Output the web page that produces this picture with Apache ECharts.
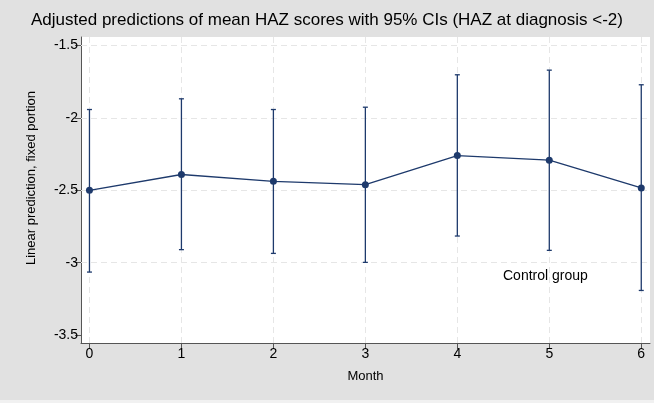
<!DOCTYPE html>
<html>
<head>
<meta charset="utf-8">
<script src="https://cdn.jsdelivr.net/npm/echarts@6/dist/echarts.min.js"></script>
<style>
  html, body { margin: 0; padding: 0; background: #e1e1e1; }
  #chart { width: 654px; height: 403px; }
</style>
</head>
<body>
<div id="chart"></div>
<script>
// values
const months = [0, 1, 2, 3, 4, 5, 6];
const meanHaz = [-2.500, -2.391, -2.438, -2.461, -2.260, -2.292, -2.484];
const upperCI = [-1.942, -1.868, -1.942, -1.926, -1.702, -1.670, -1.771];
const lowerCI = [-3.065, -2.910, -2.936, -2.998, -2.816, -2.915, -3.192];
const yTicks = [-3.5, -3, -2.5, -2, -1.5];
const yGridLines = [-3, -2.5, -2, -1.5];

const navy = '#1e3a6c';
const font = 'Liberation Sans, Arial, sans-serif';

const chart = echarts.init(document.getElementById('chart'));

const option = {
  backgroundColor: '#e1e1e1',
  animation: false,
  textStyle: { fontFamily: font },
  title: {
    text: 'Adjusted predictions of mean HAZ scores with 95% CIs (HAZ at diagnosis <-2)',
    left: 'center',
    top: 7,
    textStyle: { fontFamily: font, fontSize: 17, fontWeight: 'normal', color: '#000' }
  },
  grid: {
    left: 81, right: 4, top: 37, bottom: 60,
    show: true, backgroundColor: '#fff', borderWidth: 0
  },
  xAxis: {
    type: 'value',
    min: -0.092,
    max: 6.095,
    name: 'Month',
    nameLocation: 'middle',
    nameGap: 27,
    nameTextStyle: { fontFamily: font, fontSize: 13, color: '#000' },
    axisLine: { onZero: false, lineStyle: { color: '#555', width: 1 } },
    axisTick: { customValues: months, length: 6, lineStyle: { color: '#555' } },
    axisLabel: { customValues: months, margin: 4, fontSize: 14, color: '#000', fontFamily: font },
    splitLine: { show: false }
  },
  yAxis: {
    type: 'value',
    min: -3.555,
    max: -1.441,
    axisLine: { show: true, onZero: false, lineStyle: { color: '#555', width: 1 } },
    axisTick: { show: true, customValues: yTicks, length: 6, lineStyle: { color: '#555' } },
    axisLabel: { customValues: yTicks, margin: 3, fontSize: 14, color: '#000', fontFamily: font },
    splitLine: { show: false }
  },
  graphic: [
    {
      type: 'text',
      x: 31, y: 178,
      rotation: Math.PI / 2,
      style: {
        text: 'Linear prediction, fixed portion',
        font: '13px ' + font,
        fill: '#000',
        align: 'center',
        verticalAlign: 'middle'
      }
    },
    {
      type: 'text',
      left: 503, top: 269,
      style: { text: 'Control group', font: '14px ' + font, fill: '#000' }
    },
    {
      type: 'rect',
      shape: { x: 0, y: 400, width: 654, height: 3 },
      style: { fill: '#f1f1f1' }
    }
  ],
  series: [
    {
      // dashed grid lines
      type: 'line',
      data: [],
      z: 1,
      silent: true,
      markLine: {
        silent: true,
        symbol: 'none',
        label: { show: false },
        lineStyle: { color: '#e6e6e6', type: [6, 4], width: 1 },
        data: yGridLines.map(v => ({ yAxis: v })).concat(months.map(v => ({ xAxis: v })))
      }
    },
    {
      type: 'custom',
      zlevel: 1,
      z: 3,
      data: months.map((m, i) => [m, lowerCI[i], upperCI[i]]),
      renderItem(params, api) {
        const x = api.value(0);
        const lo = api.coord([x, api.value(1)]);
        const hi = api.coord([x, api.value(2)]);
        const hw = 2.5;
        const style = { stroke: navy, lineWidth: 1.3, lineDash: null };
        return {
          type: 'group',
          children: [
            { type: 'line', shape: { x1: lo[0], y1: lo[1], x2: hi[0], y2: hi[1] }, style },
            { type: 'line', shape: { x1: hi[0] - hw, y1: hi[1], x2: hi[0] + hw, y2: hi[1] }, style },
            { type: 'line', shape: { x1: lo[0] - hw, y1: lo[1], x2: lo[0] + hw, y2: lo[1] }, style }
          ]
        };
      }
    },
    {
      type: 'line',
      zlevel: 1,
      z: 4,
      data: months.map((m, i) => [m, meanHaz[i]]),
      symbol: 'circle',
      symbolSize: 7,
      itemStyle: { color: navy },
      lineStyle: { color: navy, width: 1.3 }
    }
  ]
};

chart.setOption(option);
</script>
</body>
</html>
